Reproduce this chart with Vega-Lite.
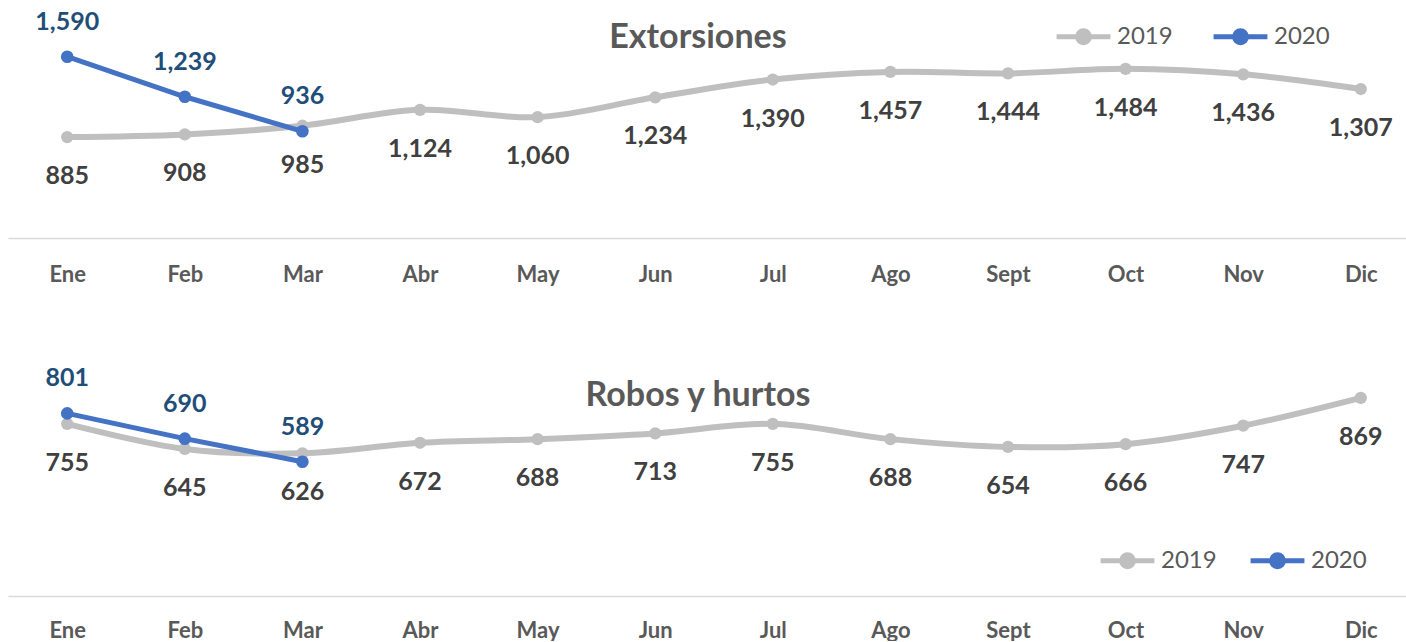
{
  "$schema": "https://vega.github.io/schema/vega-lite/v6.json",
  "padding": {"left": 8, "top": 7, "right": 0, "bottom": 0},
  "background": "white",
  "config": {
    "font": "Lato",
    "view": {"stroke": null}
  },
  "data": {
    "values": [
      {"panel": "Extorsiones", "month": "Ene", "year": "2019", "value": 885},
      {"panel": "Extorsiones", "month": "Feb", "year": "2019", "value": 908},
      {"panel": "Extorsiones", "month": "Mar", "year": "2019", "value": 985},
      {"panel": "Extorsiones", "month": "Abr", "year": "2019", "value": 1124},
      {"panel": "Extorsiones", "month": "May", "year": "2019", "value": 1060},
      {"panel": "Extorsiones", "month": "Jun", "year": "2019", "value": 1234},
      {"panel": "Extorsiones", "month": "Jul", "year": "2019", "value": 1390},
      {"panel": "Extorsiones", "month": "Ago", "year": "2019", "value": 1457},
      {"panel": "Extorsiones", "month": "Sept", "year": "2019", "value": 1444},
      {"panel": "Extorsiones", "month": "Oct", "year": "2019", "value": 1484},
      {"panel": "Extorsiones", "month": "Nov", "year": "2019", "value": 1436},
      {"panel": "Extorsiones", "month": "Dic", "year": "2019", "value": 1307},
      {"panel": "Extorsiones", "month": "Ene", "year": "2020", "value": 1590},
      {"panel": "Extorsiones", "month": "Feb", "year": "2020", "value": 1239},
      {"panel": "Extorsiones", "month": "Mar", "year": "2020", "value": 936},
      {"panel": "Robos", "month": "Ene", "year": "2019", "value": 755},
      {"panel": "Robos", "month": "Feb", "year": "2019", "value": 645},
      {"panel": "Robos", "month": "Mar", "year": "2019", "value": 626},
      {"panel": "Robos", "month": "Abr", "year": "2019", "value": 672},
      {"panel": "Robos", "month": "May", "year": "2019", "value": 688},
      {"panel": "Robos", "month": "Jun", "year": "2019", "value": 713},
      {"panel": "Robos", "month": "Jul", "year": "2019", "value": 755},
      {"panel": "Robos", "month": "Ago", "year": "2019", "value": 688},
      {"panel": "Robos", "month": "Sept", "year": "2019", "value": 654},
      {"panel": "Robos", "month": "Oct", "year": "2019", "value": 666},
      {"panel": "Robos", "month": "Nov", "year": "2019", "value": 747},
      {"panel": "Robos", "month": "Dic", "year": "2019", "value": 869},
      {"panel": "Robos", "month": "Ene", "year": "2020", "value": 801},
      {"panel": "Robos", "month": "Feb", "year": "2020", "value": 690},
      {"panel": "Robos", "month": "Mar", "year": "2020", "value": 589}
    ]
  },
  "bounds": "flush",
  "spacing": 130,
  "resolve": {"scale": {"color": "independent", "x": "independent", "y": "independent"}, "legend": {"color": "independent"}},
  "vconcat": [
    {
      "width": 1398,
      "height": 228,
      "title": {"text": "Extorsiones", "offset": -36, "dy": 39, "baseline": "alphabetic", "anchor": "middle", "dx": -9, "fontSize": 34, "fontWeight": "bold", "color": "#595959", "font": "Lato"},
      "transform": [{"filter": "datum.panel == 'Extorsiones'"}],
      "encoding": {
        "x": {"field": "month", "type": "ordinal", "sort": ["Ene","Feb","Mar","Abr","May","Jun","Jul","Ago","Sept","Oct","Nov","Dic"],
              "scale": {"type": "point", "padding": 0.444, "align": 0.567},
              "axis": {"title": null, "ticks": false, "domainColor": "#D9D9D9", "domainWidth": 1.5, "labelFontSize": 22, "labelFontWeight": "bold", "labelColor": "#595959", "labelPadding": 26, "labelAngle": 0, "labelBaseline": "top"}},
        "y": {"field": "value", "type": "quantitative", "scale": {"domain": [0, 2000]}, "axis": null}
      },
      "layer": [
        {"transform": [{"filter": "datum.year == '2019'"}],
         "mark": {"type": "line", "interpolate": "cardinal", "strokeWidth": 6, "strokeCap": "round", "point": {"filled": true, "size": 150}},
         "encoding": {"color": {"field": "year", "type": "nominal", "scale": {"domain": ["2019","2020"], "range": ["#BFBFBF","#4472C4"]},
           "legend": {"orient": "none", "legendX": 1046, "legendY": -3, "direction": "horizontal", "title": null, "labelFontSize": 24, "labelColor": "#595959", "labelFont": "Lato", "symbolType": "M-1,0L1,0M-0.22,0A0.22,0.22,0,1,1,0.22,0A0.22,0.22,0,1,1,-0.22,0Z", "symbolSize": 2900, "symbolStrokeWidth": 5, "labelOffset": 4, "columnPadding": 30}}}},
        {"transform": [{"filter": "datum.year == '2020'"}],
         "mark": {"type": "line", "strokeWidth": 5, "strokeCap": "round", "point": {"filled": true, "size": 160}},
         "encoding": {"color": {"field": "year", "type": "nominal"}}},
        {"transform": [{"filter": "datum.year == '2019'"}],
         "mark": {"type": "text", "dy": 39, "fontSize": 25, "fontWeight": "bold", "color": "#404040", "baseline": "middle"},
         "encoding": {"text": {"field": "value", "type": "quantitative", "format": ","}}},
        {"transform": [{"filter": "datum.year == '2020'"}],
         "mark": {"type": "text", "dy": -35, "fontSize": 25, "fontWeight": "bold", "color": "#1F4E79", "baseline": "middle"},
         "encoding": {"text": {"field": "value", "type": "quantitative", "format": ","}}}
      ]
    },
    {
      "width": 1398,
      "height": 228,
      "title": {"text": "Robos y hurtos", "offset": -36, "dy": 38, "baseline": "alphabetic", "anchor": "middle", "dx": -9, "fontSize": 34, "fontWeight": "bold", "color": "#595959", "font": "Lato"},
      "transform": [{"filter": "datum.panel == 'Robos'"}],
      "encoding": {
        "x": {"field": "month", "type": "ordinal", "sort": ["Ene","Feb","Mar","Abr","May","Jun","Jul","Ago","Sept","Oct","Nov","Dic"],
              "scale": {"type": "point", "padding": 0.444, "align": 0.567},
              "axis": {"title": null, "ticks": false, "domainColor": "#D9D9D9", "domainWidth": 1.5, "labelFontSize": 22, "labelFontWeight": "bold", "labelColor": "#595959", "labelPadding": 24, "labelAngle": 0, "labelBaseline": "top"}},
        "y": {"field": "value", "type": "quantitative", "scale": {"domain": [0, 1000]}, "axis": null}
      },
      "layer": [
        {"transform": [{"filter": "datum.year == '2019'"}],
         "mark": {"type": "line", "interpolate": "cardinal", "strokeWidth": 6, "strokeCap": "round", "point": {"filled": true, "size": 150}},
         "encoding": {"color": {"field": "year", "type": "nominal", "scale": {"domain": ["2019","2020"], "range": ["#BFBFBF","#4472C4"]},
           "legend": {"orient": "none", "legendX": 1090, "legendY": 163, "direction": "horizontal", "title": null, "labelFontSize": 24, "labelColor": "#595959", "labelFont": "Lato", "symbolType": "M-1,0L1,0M-0.22,0A0.22,0.22,0,1,1,0.22,0A0.22,0.22,0,1,1,-0.22,0Z", "symbolSize": 2900, "symbolStrokeWidth": 5, "labelOffset": 4, "columnPadding": 23}}}},
        {"transform": [{"filter": "datum.year == '2020'"}],
         "mark": {"type": "line", "strokeWidth": 5, "strokeCap": "round", "point": {"filled": true, "size": 160}},
         "encoding": {"color": {"field": "year", "type": "nominal"}}},
        {"transform": [{"filter": "datum.year == '2019'"}],
         "mark": {"type": "text", "dy": 39, "fontSize": 25, "fontWeight": "bold", "color": "#404040", "baseline": "middle"},
         "encoding": {"text": {"field": "value", "type": "quantitative", "format": ","}}},
        {"transform": [{"filter": "datum.year == '2020'"}],
         "mark": {"type": "text", "dy": -35, "fontSize": 25, "fontWeight": "bold", "color": "#1F4E79", "baseline": "middle"},
         "encoding": {"text": {"field": "value", "type": "quantitative", "format": ","}}}
      ]
    }
  ]
}
